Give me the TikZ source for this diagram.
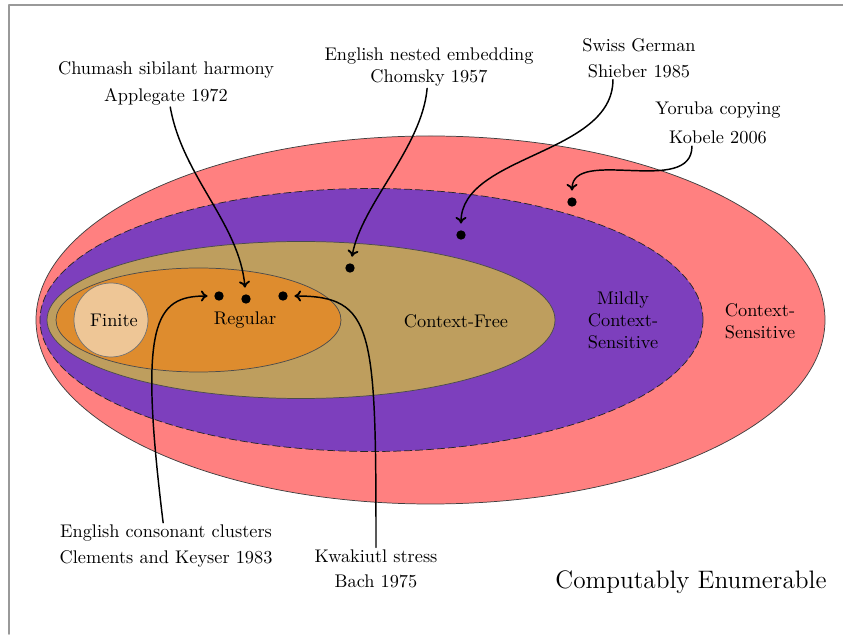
\documentclass[tikz,border=0pt]{standalone}
\usetikzlibrary{arrows.meta}
\definecolor{csred}{HTML}{FF8080}
\definecolor{mcspurple}{HTML}{7D3FBD}
\definecolor{cftan}{HTML}{BE9E5E}
\definecolor{regorange}{HTML}{DE8C2E}
\definecolor{finpeach}{HTML}{EEC696}
\begin{document}
\begin{tikzpicture}[line join = round, line cap = round,>={Computer Modern Rightarrow[length=3.6pt,width=6pt,line width=1pt]},x=0.0192cm,y=0.0192cm,
	note/.style={align=center,inner sep=1pt},
	dot/.style={circle,fill=black,inner sep=0pt,minimum size=0.18cm},
	link/.style={->,thick,shorten >=3.5pt}]
	\useasboundingbox (0,0) rectangle (843,634);
	\draw[black!40,line width=1pt] (9,0) -- (9,629) -- (843,629);
	% the classes, outermost first
	\draw[fill=csred,draw=black!75] (430.5,314) ellipse (394.5 and 184);
	\draw[fill=mcspurple,draw=black!85,dash pattern=on 4pt off 2pt] (371.5,314) ellipse (331.5 and 131.5);
	\draw[fill=cftan,draw=black!70] (301,314) ellipse (254 and 78.5);
	\draw[fill=regorange,draw=black!70] (198.5,314) ellipse (142.5 and 52);
	\draw[fill=finpeach,draw=black!55] (111,314) circle (37);
	\node (finite) at (114,314) {Finite};
	\node (regular) at (245,314) {Regular};
	\node (cfree) at (456,313) {Context-Free};
	\node[align=center] (mcsl) at (623,314) {Mildly\\Context-\\Sensitive};
	\node[align=center] (csl) at (760,313) {Context-\\Sensitive};
	\node[font=\fontsize{13.8}{16}\selectfont] (ce) at (691,52) {Computably Enumerable};
	% example languages
	\node[dot] (r1) at (219,338) {};
	\node[dot] (r2) at (246,335) {};
	\node[dot] (r3) at (283,338) {};
	\node[dot] (cf1) at (350,366) {};
	\node[dot] (mcs1) at (461,399) {};
	\node[dot] (cs1) at (572,432) {};
	\node[note] (chumash) at (166,551) {Chumash sibilant harmony\\[2.7pt] Applegate 1972};
	\node[note] (nested) at (429,567) {English nested embedding\\ Chomsky 1957};
	\node[note] (swiss) at (639,576) {Swiss German\\[2pt] Shieber 1985};
	\node[note] (yoruba) at (718,511) {Yoruba copying\\[3.8pt] Kobele 2006};
	\node[note] (clusters) at (166,88) {English consonant clusters\\[2pt] Clements and Keyser 1983};
	\node[note] (kwakiutl) at (376,65) {Kwakiutl stress\\[2pt] Bach 1975};
	\draw[link] (chumash) to[out=-80,in=95,looseness=0.9] (r2);
	\draw[link] (nested) to[out=-95,in=80,looseness=0.8] (cf1);
	\draw[link] ([xshift=-0.5cm]swiss.south) to[out=-90,in=90,looseness=0.9] (mcs1);
	\draw[link] ([xshift=-0.5cm]yoruba.south) to[out=-90,in=90] (cs1);
	\draw[link] (clusters) to[out=97,in=180,out distance=3.85cm,in distance=1.15cm] (r1);
	\draw[link] (kwakiutl) to[out=90,in=0,out distance=4.2cm,in distance=1.65cm] (r3);
\end{tikzpicture}
\end{document}
